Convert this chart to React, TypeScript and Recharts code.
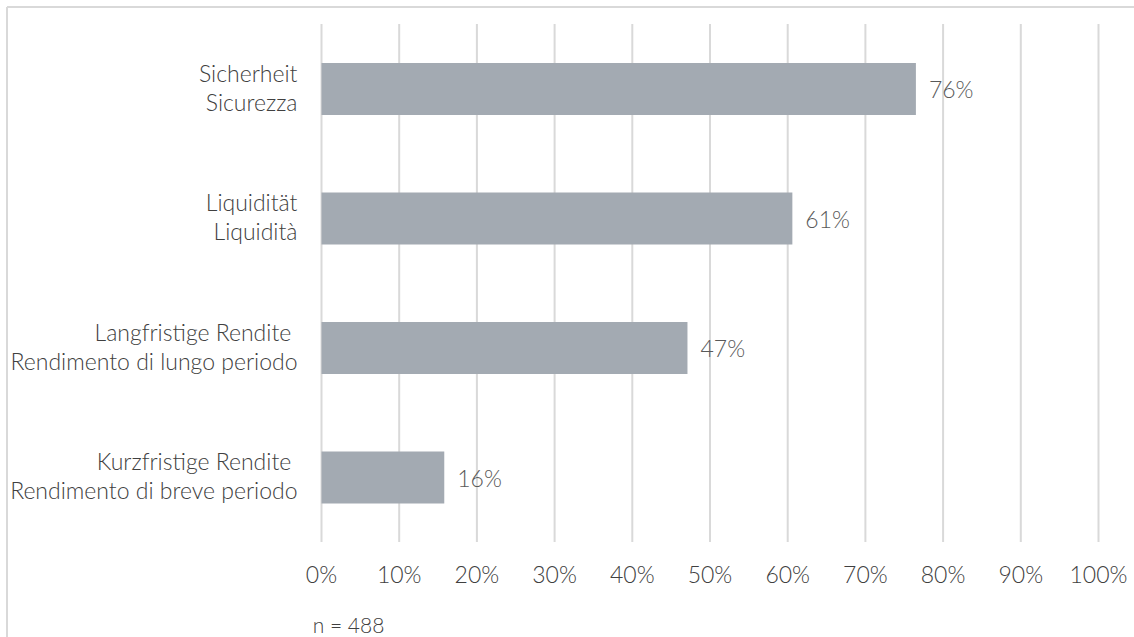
import React from 'react';
import { BarChart, Bar, XAxis, YAxis, CartesianGrid, LabelList } from 'recharts';

const categoriesDe = ['Sicherheit', 'Liquidität', 'Langfristige Rendite ', 'Kurzfristige Rendite '];
const categoriesIt = ['Sicurezza', 'Liquidità', 'Rendimento di lungo periodo', 'Rendimento di breve periodo'];
const values = [76.5, 60.6, 47.1, 15.8];
const valueLabels = ['76%', '61%', '47%', '16%'];
const xTicks = [0, 10, 20, 30, 40, 50, 60, 70, 80, 90, 100];
const sampleNote = 'n = 488';

const FONT = 'Lato, "Open Sans", sans-serif';

const data = categoriesDe.map((de, i) => ({
  name: de,
  it: categoriesIt[i],
  value: values[i],
  label: valueLabels[i],
}));

const YTick = (props: any) => {
  const { x, y, payload } = props;
  const d = data[payload.index] || data.find((r) => r.name === payload.value);
  return (
    <text
      x={x - 24}
      y={y}
      textAnchor="end"
      fill="#404040"
      fontFamily={FONT}
      fontWeight={300}
      fontSize={23}
      style={{ whiteSpace: 'pre' }}
    >
      <tspan x={x - 24} dy={-6.8}>{payload.value}</tspan>
      <tspan x={x - 24} dy={28.6}>{d ? d.it : ''}</tspan>
    </text>
  );
};

const XTick = (props: any) => {
  const { x, y, payload } = props;
  return (
    <text x={x} y={y + 40.7} textAnchor="middle" fill="#404040" fontFamily={FONT} fontWeight={300} fontSize={23}>
      {`${payload.value}%`}
    </text>
  );
};

const ValueLabel = (props: any) => {
  const { x, y, width, height, index } = props;
  return (
    <text
      x={x + width + 13}
      y={y + height / 2}
      dominantBaseline="central"
      fill="#595959"
      fontFamily={FONT}
      fontWeight={300}
      fontSize={23}
    >
      {valueLabels[index]}
    </text>
  );
};

export default function App() {
  return (
    <div style={{ position: 'absolute', left: 0, top: 0, width: 1134, height: 637, background: '#fff', overflow: 'hidden' }}>
      <BarChart
        width={1134}
        height={637}
        data={data}
        layout="vertical"
        margin={{ top: 24, right: 35.5, bottom: 55, left: 0 }}
      >
        <CartesianGrid vertical horizontal={false} stroke="#d9d9d9" strokeWidth={2} />
        <XAxis
          type="number"
          domain={[0, 100]}
          ticks={xTicks}
          axisLine={false}
          tickLine={false}
          tickSize={0}
          tickMargin={0}
          height={40}
          tick={<XTick />}
          interval={0}
        />
        <YAxis
          type="category"
          dataKey="name"
          width={321.5}
          axisLine={false}
          tickLine={false}
          tickSize={0}
          tickMargin={0}
          tick={<YTick />}
          interval={0}
        />
        <Bar dataKey="value" fill="#a3aab2" barSize={52} isAnimationActive={false}>
          <LabelList dataKey="label" content={<ValueLabel />} />
        </Bar>
      </BarChart>
      <svg width={1134} height={637} style={{ position: 'absolute', left: 0, top: 0, pointerEvents: 'none' }}>
        <line x1={7} y1={7} x2={1134} y2={7} stroke="#d9d9d9" strokeWidth={2} />
        <line x1={7} y1={7} x2={7} y2={637} stroke="#d9d9d9" strokeWidth={2} />
        <text x={312.7} y={633} fill="#404040" fontFamily={FONT} fontWeight={300} fontSize={21}>
          {sampleNote}
        </text>
      </svg>
    </div>
  );
}
